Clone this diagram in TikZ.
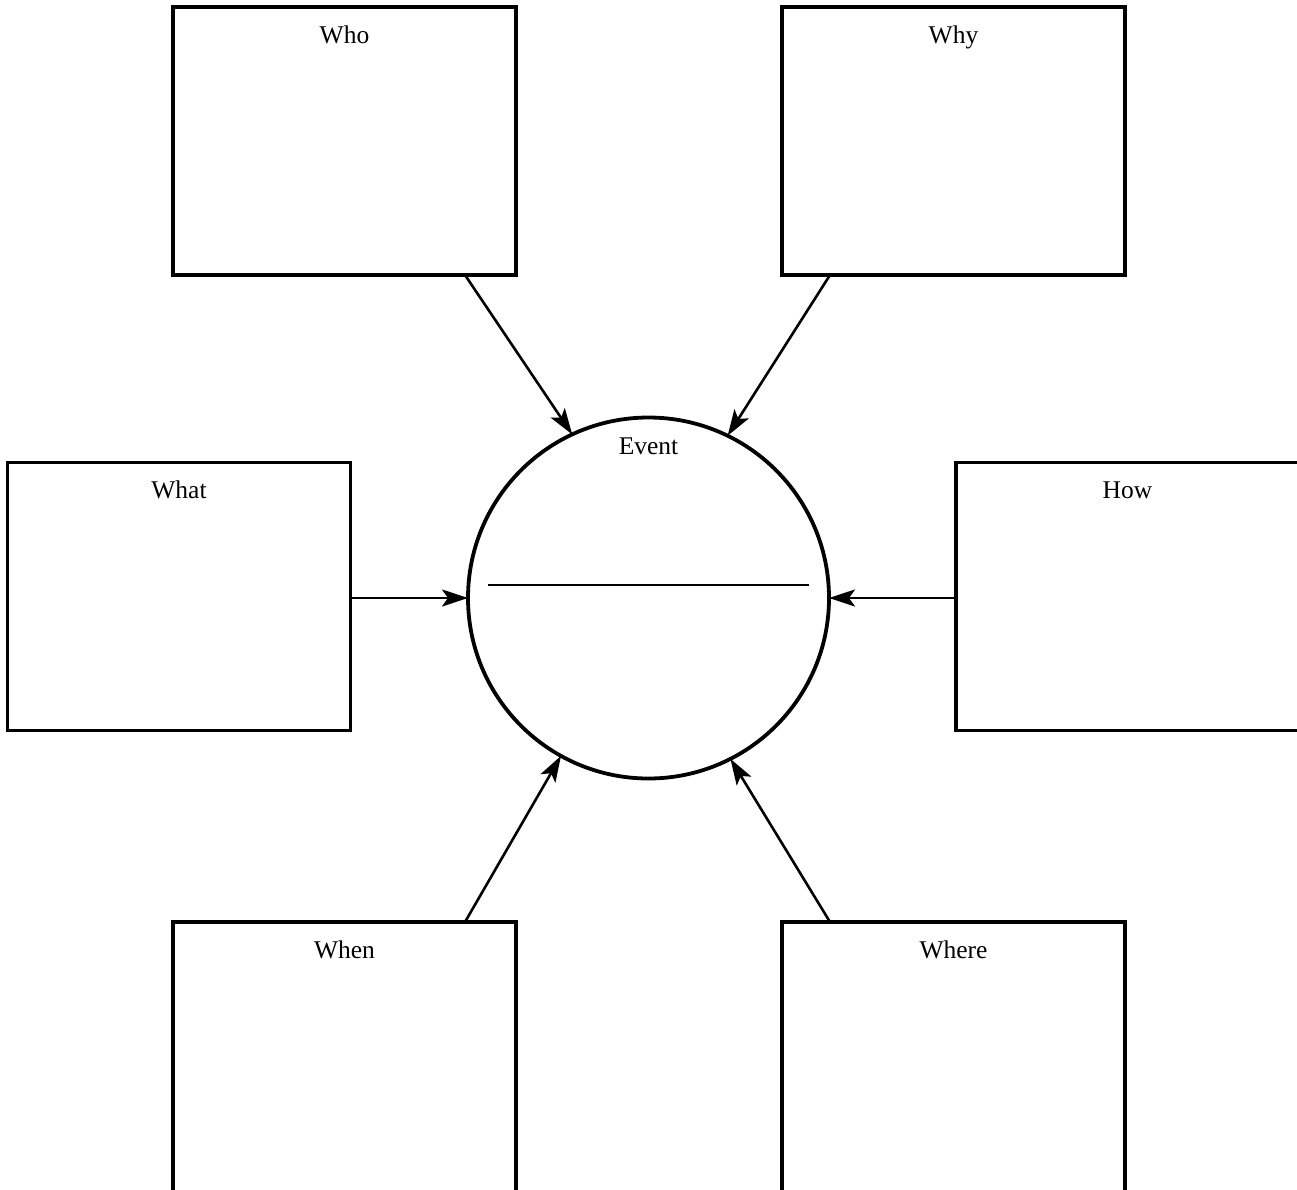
\documentclass[tikz,border=0pt]{standalone}
\usepackage{fontspec}
\setmainfont{Liberation Serif}
\usetikzlibrary{arrows.meta,calc}
\begin{document}
\begin{tikzpicture}[x=1pt,y=-1pt,
  qbox/.style={draw, line width=3.4pt, rectangle, minimum width=343pt, minimum height=268pt, inner sep=0pt, outer sep=0pt},
  qlab/.style={anchor=base, inner sep=0pt, font=\fontsize{25.5}{30}\selectfont},
  qarrow/.style={line width=2.6pt, -{Stealth[length=26pt,width=17pt,inset=6pt]}},
  evcircle/.style={draw, line width=3.8pt, circle, minimum size=361pt, inner sep=0pt, outer sep=0pt}]
\useasboundingbox (0,0) rectangle (1297,1189);
\clip (0,0) rectangle (1297,1189);
\fill[white] (0,0) rectangle (1297,1189);
% boxes
\node[qbox] (who) at (344.5,141) {};
\node[qbox] (why) at (953.5,141) {};
\node[qbox] (what) at (179,596.5) {};
\node[qbox, minimum width=360pt] (how) at (1136,596.5) {};
\node[qbox, minimum height=290pt] (when) at (344.5,1067) {};
\node[qbox, minimum height=290pt] (where) at (953.5,1067) {};
% circle
\node[evcircle] (event) at (648.5,598) {};
% labels
\node[qlab] (whoL) at ([yshift=-36pt]who.north) {Who};
\node[qlab] (whyL) at ([yshift=-36pt]why.north) {Why};
\node[qlab] (whatL) at ([yshift=-36pt]what.north) {What};
\node[qlab] (howL) at ([shift={(-8.5pt,-36pt)}]how.north) {How};
\node[qlab] (whenL) at ([yshift=-36pt]when.north) {When};
\node[qlab] (whereL) at ([yshift=-36pt]where.north) {Where};
\node[qlab] (eventL) at ([yshift=-37pt]event.north) {Event};
% line in circle
\coordinate (lineA) at ([shift={(-160.5pt,13pt)}]event.center);
\coordinate (lineB) at ([shift={(160.5pt,13pt)}]event.center);
\draw[line width=2.6pt] (lineA) -- (lineB);
% arrow starts
\coordinate (whoS) at ([xshift=-51pt]who.south east);
\coordinate (whyS) at ([xshift=48pt]why.south west);
\coordinate (whenS) at ([xshift=-51pt]when.north east);
\coordinate (whereS) at ([xshift=48pt]where.north west);
% arrows
\draw[qarrow] (whoS) -- (event.115.3);
\draw[qarrow] (whyS) -- (event.64.7);
\draw[qarrow] (what.east |- event.west) -- (event.west);
\draw[qarrow] (how.west |- event.east) -- (event.east);
\draw[qarrow] (whenS) -- (event.241.6);
\draw[qarrow] (whereS) -- (event.297.8);
\end{tikzpicture}
\end{document}
